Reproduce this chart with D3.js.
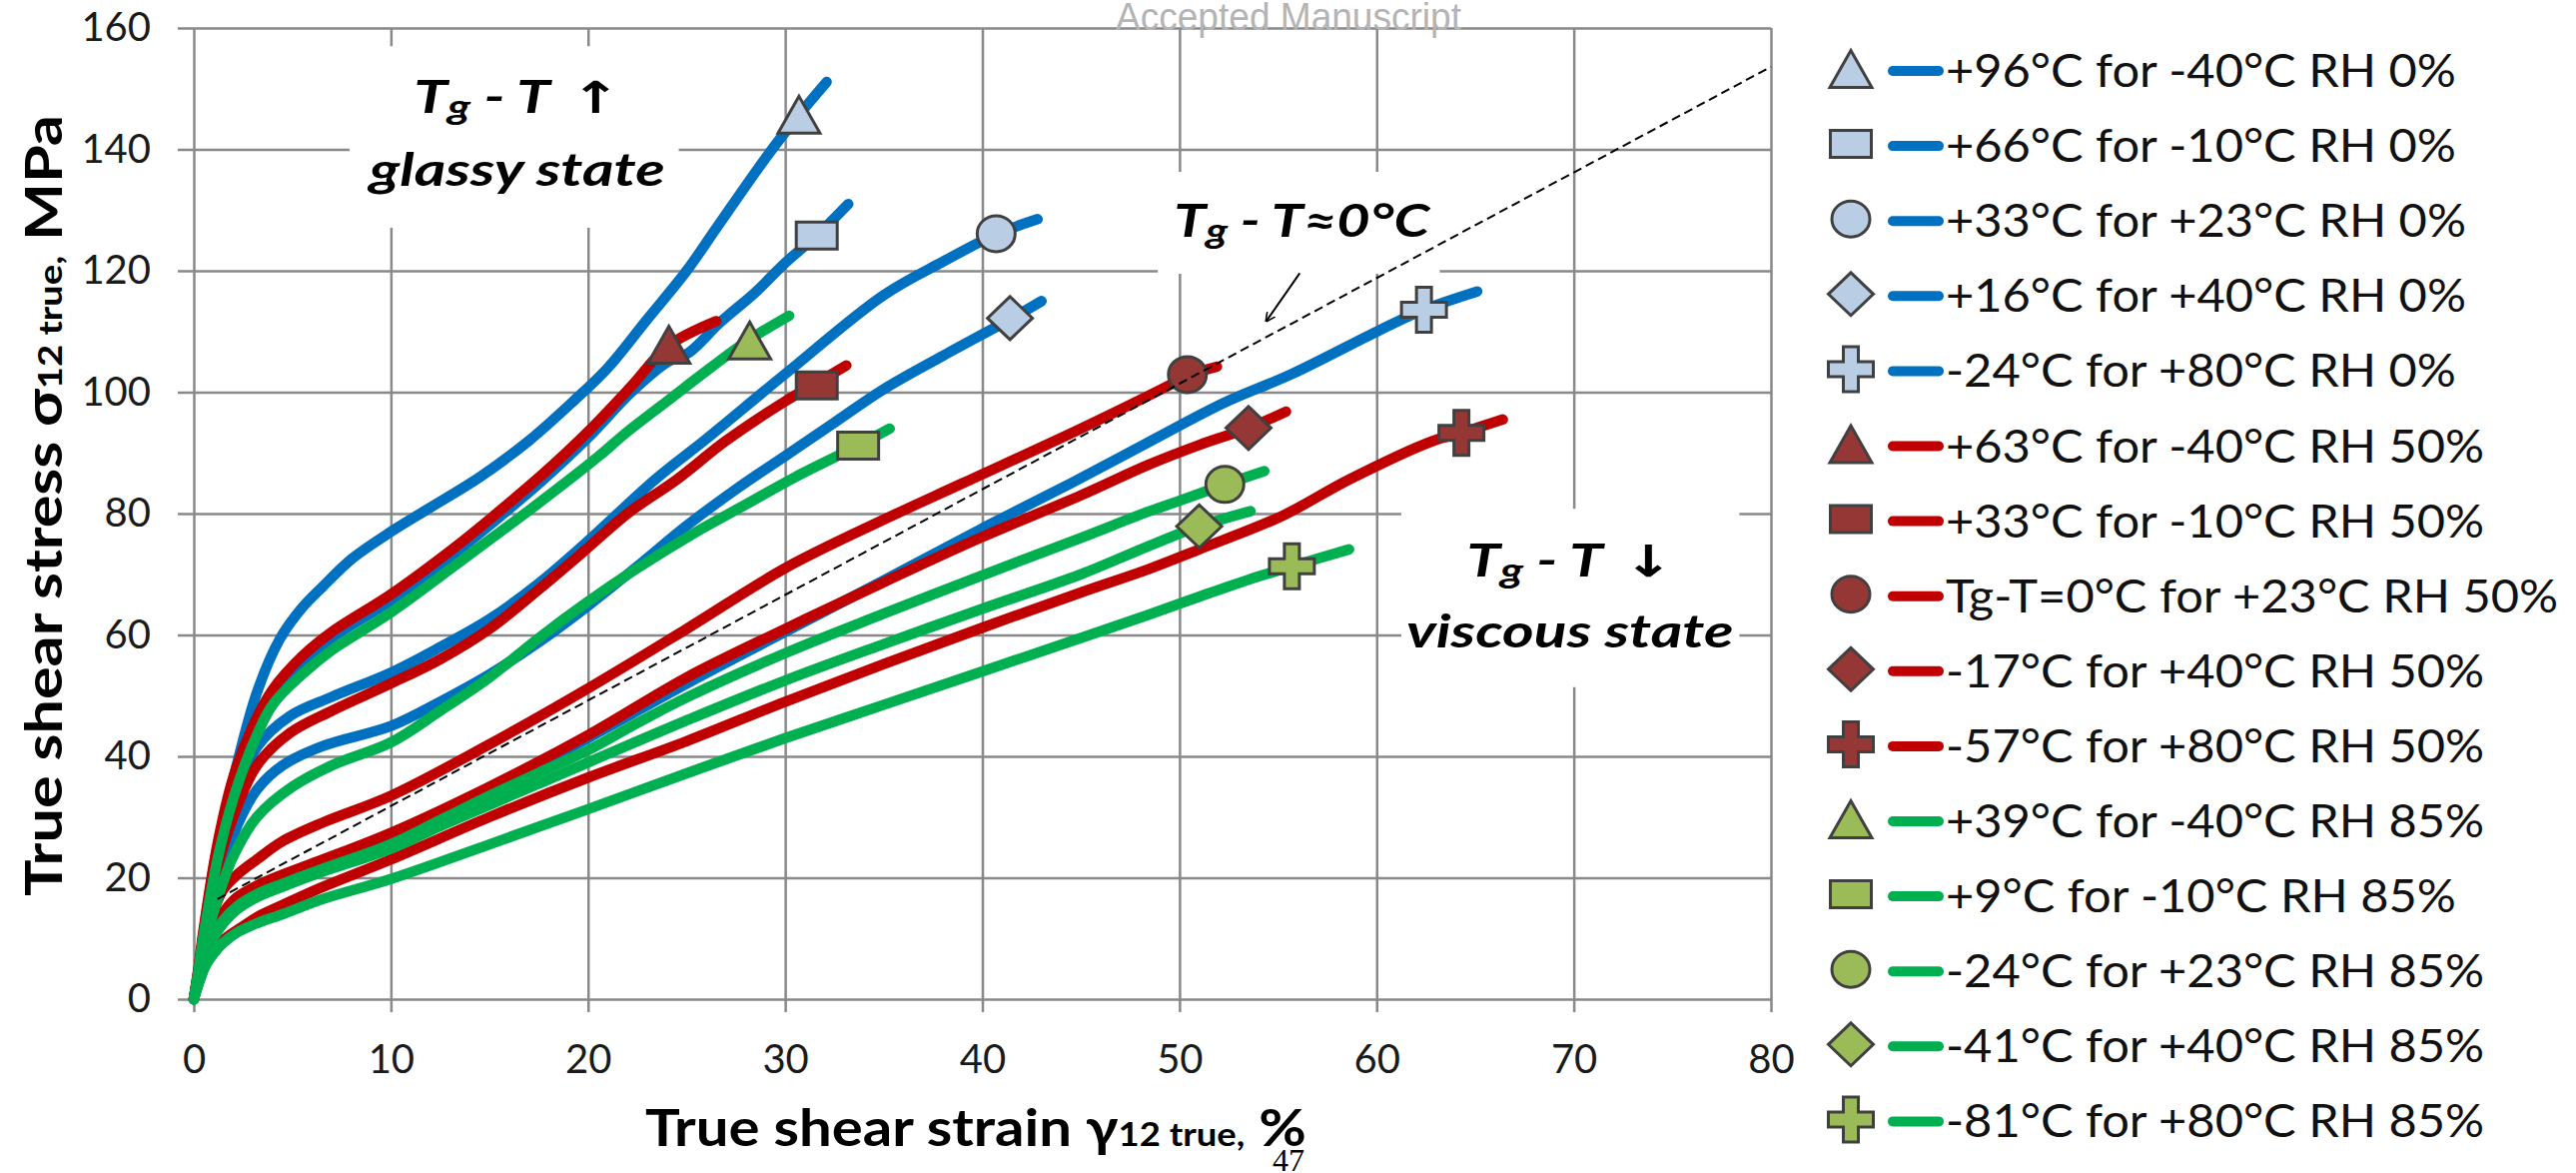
<!DOCTYPE html>
<html>
<head>
<meta charset="utf-8">
<script src="https://cdn.jsdelivr.net/npm/d3@7"></script>
<style>
  body { margin: 0; background: #fff; }
  svg { display: block; }
</style>
</head>
<body>
<script>
// strain (%) / stress (MPa) pairs
const rh0_m40 = [[0,0],[0.25,5],[0.5,11],[1.06,22.5],[1.5,29],[2,36.2],[3.2,50.5],[4.36,59.3],[5.5,64.5],[6.55,68],[8,72.5],[10,77],[12,81],[14.5,86],[17,92],[19.25,98.5],[21,104],[23,112],[25,120],[26.5,127],[29.1,139],[30.7,145.7],[32.1,151.1]];
const rh0_m10 = [[0,0],[0.25,4.8],[0.5,10.5],[1.2,24.5],[2,35.5],[3,44],[4,50],[5.5,55.5],[7,59.5],[10,65.7],[13.3,73.6],[15.2,78.6],[17.7,85.5],[20,92.5],[22.2,100],[24.05,105],[25.1,106.5],[26.7,111.5],[28.5,116.5],[30,121.3],[31.6,125.8],[33.2,131]];
const rh0_p23 = [[0,0],[0.25,4.5],[0.5,9.5],[1.2,21],[2,31.5],[3.2,41.5],[4.9,46.7],[7,49.8],[10,53.8],[12.5,58],[15,62.6],[17.5,68.5],[19.9,75.2],[23.4,85.6],[26,92.3],[30,103],[35,116],[38,121.5],[40.7,126],[42.8,128.5]];
const rh0_p40 = [[0,0],[0.25,4],[0.5,8.5],[1.2,18],[2,27],[3.2,34.5],[4.5,38.5],[6.55,41.7],[10,45],[12.5,49],[15,53.5],[17.5,58.8],[20,64.8],[22.5,71.3],[25,78],[27.5,84],[30,89.5],[32.5,95],[35,100.5],[38,106],[41.4,112],[43,115]];
const rh0_p80 = [[0,0],[0.3,4.3],[0.64,8.5],[1,11],[1.5,13.8],[2.2,16.2],[3.2,18.2],[4.5,20],[6.55,22.5],[10,26.5],[15,34.5],[20,43],[25.13,52.2],[30,60.5],[35,69],[39.9,77.4],[44.5,85],[48.4,91.7],[52.3,98.3],[55.7,103],[60.2,110.3],[62.4,113.6],[65.1,116.6]];

const rh50_m40 = [[0,0],[0.25,5.5],[0.5,11.5],[1.2,25.5],[2,36.5],[3,45],[4,51],[5.5,56.5],[7,60.5],[10,66.7],[13.3,74.6],[15.2,79.6],[17.7,86.5],[20,93.5],[22.2,101],[24.05,107.6],[26.5,111.7]];
const rh50_m10 = [[0,0],[0.25,5],[0.5,10],[1.15,21],[2,30],[3.2,38.5],[4.9,43.9],[7,47.5],[10,52],[12.5,56],[15,61],[17.5,67.5],[19.9,74.1],[22,80],[24.5,85.6],[27,92],[30,98.5],[31.6,101.5],[33.1,104.4]];
const rh50_p23 = [[0,0],[0.3,5],[0.64,10],[1,14.5],[1.5,18.1],[2.2,20.5],[3.2,23],[4.5,26],[6.55,29.1],[10,33.5],[15,42],[20,51.2],[25,61],[30,71],[35,79],[39,85],[45,94],[49.4,101],[50.4,102.7],[51.9,104.2]];
const rh50_p40 = [[0,0],[0.3,4.5],[0.64,8.8],[1,11.5],[1.5,14.3],[2.2,16.8],[3.2,18.7],[4.5,20.5],[6.55,23],[10,27.4],[15,35],[20,43.5],[25,53],[30,61],[35,68.7],[39.9,76],[45,83],[48.4,88],[51,91.3],[53.5,94.1],[55.4,96.8]];
const rh50_p80 = [[0,0],[0.3,3.2],[0.6,5.8],[1,8],[1.6,10],[2.5,12],[3.2,13.5],[4.5,15.5],[6.55,18.5],[10,23],[15,30],[20,36.5],[25,42.5],[30,49],[35,55.2],[40,61.2],[45,67],[48.4,70.8],[51,74.1],[55.2,79.6],[58.6,85.6],[62.8,91.9],[64.3,93.3],[66.4,95.5]];

const rh85_m40 = [[0,0],[0.25,5],[0.5,10.5],[1.2,23],[2,33],[3,42],[4,48.5],[5.5,53.5],[7,57.5],[10,63.7],[14.3,74],[17,80.5],[19.05,85.6],[20.56,89.5],[22,93.5],[24,98.5],[26,103.5],[28.1,108.5],[30.2,112.6]];
const rh85_m10 = [[0,0],[0.25,4],[0.5,8],[1.2,16.5],[2,23.5],[3.2,30],[5,35],[7,38.5],[10,42.3],[12.5,47.5],[15,53],[17.5,59.5],[20,65.5],[22.5,71],[25.5,77],[28,81.5],[30.5,86],[33.7,91.2],[35.3,94]];
const rh85_p23 = [[0,0],[0.3,4],[0.6,7.5],[1,10.5],[1.5,13],[2.2,15.3],[3.2,17.3],[4.5,19],[6.55,21.5],[10,25.5],[12.5,29.5],[15,33.5],[17.5,37.3],[20,41],[22.5,45.5],[25.13,49.9],[30,57],[35,63.5],[39.9,69.7],[45,76],[48.4,80.3],[49.9,82],[52.3,84.8],[54.3,87]];
const rh85_p40 = [[0,0],[0.3,3.8],[0.6,7.2],[1,10],[1.5,12.5],[2.2,14.8],[3.2,16.8],[4.5,18.5],[6.55,21],[10,24.8],[12.5,28.5],[15,32],[17.5,35.5],[20,39],[22.5,42.5],[25.13,46.1],[30,52.5],[35,58.5],[39.9,64.2],[45,70],[48.4,74.6],[51,77.9],[53.6,80.4]];
const rh85_p80 = [[0,0],[0.3,3],[0.6,5.5],[1,7.5],[1.5,9.3],[2.2,11],[3.2,12.5],[4.5,14],[6.55,16.5],[10,19.8],[15,25.5],[20,31.3],[25,37.2],[30,43],[35,48.5],[40,54],[45,59.5],[48.4,63.3],[51,66.3],[53.5,69.1],[55.7,71.3],[58.6,74.1]];

// one marker per curve, where the figure puts it
const markerPts = [[30.7,145.7],[31.6,125.8],[40.7,126.1],[41.4,112.2],[62.4,113.6],
                   [24.1,107.8],[31.6,101.1],[50.4,102.9],[53.5,94.1],[64.3,93.3],
                   [28.2,108.5],[33.7,91.2],[52.3,84.8],[51.0,77.9],[55.7,71.3]];

const labels = ['+96°C for -40°C RH 0%', '+66°C for -10°C RH 0%', '+33°C for +23°C RH 0%', '+16°C for +40°C RH 0%', '-24°C for +80°C RH 0%',
                '+63°C for -40°C RH 50%', '+33°C for -10°C RH 50%', 'Tg-T=0°C for +23°C RH 50%', '-17°C for +40°C RH 50%', '-57°C for +80°C RH 50%',
                '+39°C for -40°C RH 85%', '+9°C for -10°C RH 85%', '-24°C for +23°C RH 85%', '-41°C for +40°C RH 85%', '-81°C for +80°C RH 85%'];
const shapes = ['triangle', 'square', 'circle', 'diamond', 'cross'];

// reference line T_g - T ≈ 0 °C
const tgLine = [[1.2,16.5],[80,153.6]];

const xTicks = d3.range(0, 81, 10);
const yTicks = d3.range(0, 161, 20);

const series = [rh0_m40, rh0_m10, rh0_p23, rh0_p40, rh0_p80,
                rh50_m40, rh50_m10, rh50_p23, rh50_p40, rh50_p80,
                rh85_m40, rh85_m10, rh85_p23, rh85_p40, rh85_p80];

const lineColor = ['#0070C0', '#C00000', '#00B050'];
const fillColor = ['#B9CDE5', '#953735', '#9BBB59'];
const gridColor = '#898989';
const FONT = 'Lato, Carlito, "Open Sans", sans-serif';

function symbolPath(type) {
  switch (type) {
    case 'triangle': { const w = 42, h = 37; return `M0,${-h/2}L${w/2},${h/2}L${-w/2},${h/2}Z`; }
    case 'square':   { const w = 41, h = 27; return `M${-w/2},${-h/2}h${w}v${h}h${-w}Z`; }
    case 'circle':   { const rx = 19, ry = 18; return `M${-rx},0A${rx},${ry} 0 1,0 ${rx},0A${rx},${ry} 0 1,0 ${-rx},0Z`; }
    case 'diamond':  { const w = 45, h = 43; return `M0,${-h/2}L${w/2},0L0,${h/2}L${-w/2},0Z`; }
    case 'cross': {
      const s = 22.5, t = 7.5;
      return `M${-t},${-s}H${t}V${-t}H${s}V${t}H${t}V${s}H${-t}V${t}H${-s}V${-t}H${-t}Z`;
    }
  }
}

function draw() {
  const W = 2579, H = 1174;
  const svg = d3.select('body').append('svg').attr('width', W).attr('height', H);

  const x = d3.scaleLinear().domain([0, 80]).range([194, 1773]);
  const y = d3.scaleLinear().domain([0, 160]).range([1000, 28]);

  // grid + tick labels
  const gx = svg.append('g')
    .attr('transform', `translate(0,${y(0) + 13})`)
    .call(d3.axisBottom(x).tickValues(xTicks).tickSize(-(y(0) + 13 - y(160))).tickPadding(33).tickSizeOuter(0));
  const gy = svg.append('g')
    .attr('transform', `translate(${x(0) - 16},0)`)
    .call(d3.axisLeft(y).tickValues(yTicks).tickSize(-(x(80) - x(0) + 16)).tickPadding(27).tickSizeOuter(0));
  for (const g of [gx, gy]) {
    g.select('.domain').remove();
    g.selectAll('.tick line').attr('stroke', gridColor).attr('stroke-width', 2.5);
    g.selectAll('.tick text').attr('font-family', FONT).attr('font-size', 40).attr('fill', '#1a1a1a');
  }

  // white annotation boxes hide the grid behind them
  const boxes = [[7.9, 24.6, 157, 127.1], [48.9, 63.2, 136.3, 119.5], [61.25, 78.4, 80.8, 51.4]];
  svg.append('g').selectAll('rect').data(boxes).join('rect')
    .attr('x', d => x(d[0])).attr('width', d => x(d[1]) - x(d[0]))
    .attr('y', d => y(d[2])).attr('height', d => y(d[3]) - y(d[2]))
    .attr('fill', '#fff');

  const line = d3.line().x(d => x(d[0])).y(d => y(d[1])).curve(d3.curveCatmullRom.alpha(0.5));

  svg.append('g').selectAll('path').data(series).join('path')
    .attr('d', line)
    .attr('fill', 'none')
    .attr('stroke', (d, i) => lineColor[Math.floor(i / 5)])
    .attr('stroke-width', 10.5)
    .attr('stroke-linecap', 'round')
    .attr('stroke-linejoin', 'round');

  svg.append('g').selectAll('path').data(markerPts).join('path')
    .attr('transform', d => `translate(${x(d[0])},${y(d[1])})`)
    .attr('d', (d, i) => symbolPath(shapes[i % 5]))
    .attr('fill', (d, i) => fillColor[Math.floor(i / 5)])
    .attr('stroke', '#404040')
    .attr('stroke-width', 3)
    .attr('stroke-linejoin', 'miter');

  svg.append('path')
    .attr('d', d3.line().x(d => x(d[0])).y(d => y(d[1]))(tgLine))
    .attr('fill', 'none').attr('stroke', '#000').attr('stroke-width', 2)
    .attr('stroke-dasharray', '9,5');

  // annotations
  const ann = svg.append('g').attr('font-family', FONT).attr('font-weight', 700)
    .attr('font-style', 'italic').attr('font-size', 45).attr('fill', '#000').attr('text-anchor', 'middle');

  function tgText(g, px, py, tail, k) {
    const t = g.append('text').attr('transform', `translate(${px},${py}) scale(${k},1)`);
    t.append('tspan').text('T');
    t.append('tspan').attr('font-size', 34).attr('dy', 6).text('g');
    t.append('tspan').attr('dy', -6).text(' - T');
    if (tail) {
      t.append('tspan').attr('font-style', 'normal').attr('font-weight', 700)
        .attr('font-family', '"DejaVu Sans", sans-serif').attr('font-size', 44).text(tail);
    }
    return t;
  }
  const glassy = ann.append('text').attr('transform', `translate(${x(16.4)},${y(134)})`).text('glassy state');
  const kAnn = 296 / glassy.node().getComputedTextLength();
  glassy.attr('transform', `translate(${x(16.4)},${y(134)}) scale(${kAnn},1)`);
  tgText(ann, x(16.4), y(146), ' ↑', kAnn);
  tgText(ann, x(69.8), y(69.6), ' ↓', kAnn);
  ann.append('text').attr('transform', `translate(${x(69.8)},${y(57.9)}) scale(${kAnn},1)`).text('viscous state');
  const zero = tgText(ann, x(56.2), y(125.6), '', kAnn * 0.95);
  zero.append('tspan').text('≈0°C');

  svg.append('defs').append('marker')
    .attr('id', 'arr').attr('viewBox', '0 0 10 10').attr('refX', 9).attr('refY', 5)
    .attr('markerWidth', 10).attr('markerHeight', 10).attr('orient', 'auto').attr('markerUnits', 'userSpaceOnUse')
    .append('path').attr('d', 'M0,0L10,5L0,10').attr('fill', 'none').attr('stroke', '#000').attr('stroke-width', 1.6);
  svg.append('line')
    .attr('x1', x(56.1)).attr('y1', y(119.6)).attr('x2', x(54.4)).attr('y2', y(111.7))
    .attr('stroke', '#000').attr('stroke-width', 2).attr('marker-end', 'url(#arr)');

  // axis titles
  const xt = svg.append('text').attr('font-family', FONT).attr('font-weight', 700).attr('font-size', 51)
    .attr('text-anchor', 'middle').attr('fill', '#000');
  xt.append('tspan').text('True shear strain γ');
  xt.append('tspan').attr('font-size', 32).text('12 true,');
  xt.append('tspan').text(' %');
  const kx = 662 / xt.node().getComputedTextLength();
  xt.attr('transform', `translate(977,1147) scale(${kx},1)`);

  const yt = svg.append('text').attr('font-family', FONT).attr('font-weight', 700).attr('font-size', 51)
    .attr('text-anchor', 'middle').attr('fill', '#000');
  yt.append('tspan').text('True shear stress σ');
  yt.append('tspan').attr('font-size', 32).text('12 true,');
  yt.append('tspan').text(' MPa');
  const ky = 782 / yt.node().getComputedTextLength();
  yt.attr('transform', `translate(62,506) rotate(-90) scale(${ky},1)`);

  // legend
  const leg = svg.append('g');
  const rows = leg.selectAll('g').data(labels).join('g')
    .attr('transform', (d, i) => `translate(0,${87 + 75.1 * i})`);
  rows.append('path')
    .attr('transform', 'translate(1853,-18)')
    .attr('d', (d, i) => symbolPath(shapes[i % 5]))
    .attr('fill', (d, i) => fillColor[Math.floor(i / 5)])
    .attr('stroke', '#404040').attr('stroke-width', 3);
  rows.append('line')
    .attr('x1', 1895).attr('x2', 1941).attr('y1', -16).attr('y2', -16)
    .attr('stroke', (d, i) => lineColor[Math.floor(i / 5)])
    .attr('stroke-width', 10).attr('stroke-linecap', 'round');
  const texts = rows.append('text')
    .attr('font-family', FONT).attr('font-size', 46).attr('fill', '#111')
    .text(d => d);
  const kl = 511 / texts.node().getComputedTextLength();
  texts.attr('transform', `translate(1948,0) scale(${kl},1)`);

  // page furniture
  svg.append('text').attr('x', 1290).attr('y', 30).attr('text-anchor', 'middle')
    .attr('font-family', '"Liberation Sans Narrow", "Arial Narrow", sans-serif').attr('font-size', 38)
    .attr('textLength', 346).attr('lengthAdjust', 'spacingAndGlyphs')
    .attr('fill', '#b4b4b4').text('Accepted Manuscript');
  svg.append('text').attr('x', 1290).attr('y', 1172).attr('text-anchor', 'middle')
    .attr('font-family', '"Liberation Serif", serif').attr('font-size', 32).attr('fill', '#000').text('47');
}

document.fonts.ready.then(draw);
</script>
</body>
</html>
